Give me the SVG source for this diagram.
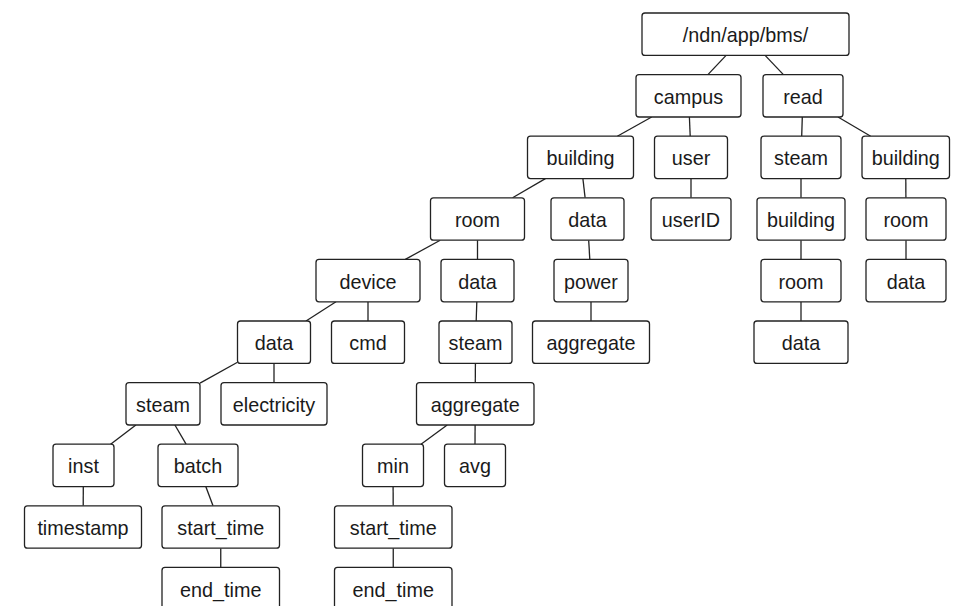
<svg xmlns="http://www.w3.org/2000/svg" width="959" height="606" viewBox="0 0 959 606">
  <style>
    .node rect { fill: #ffffff; stroke: #222222; stroke-width: 1.3; }
    .node text { font-family: "Liberation Sans", Arial, Helvetica, sans-serif; font-size: 19.8px; fill: #1a1a1a; text-anchor: middle; }
    #edges line { stroke: #222222; stroke-width: 1.3; fill: none; }
  </style>
  <rect x="0" y="0" width="959" height="606" fill="#ffffff"/>

  <!-- tree edges: parent bottom to child top, along the centre line -->
  <g id="edges">
    <line x1="726.1" y1="55.4" x2="707.9" y2="74.6"/>
    <line x1="765.1" y1="55.4" x2="783.4" y2="74.6"/>
    <line x1="651.7" y1="117" x2="617.3" y2="136.2"/>
    <line x1="689.4" y1="117" x2="690.2" y2="136.2"/>
    <line x1="802.3" y1="117" x2="801.7" y2="136.2"/>
    <line x1="838" y1="117" x2="870.7" y2="136.2"/>
    <line x1="545.4" y1="178.6" x2="512.6" y2="197.8"/>
    <line x1="582.9" y1="178.6" x2="585.1" y2="197.8"/>
    <line x1="691" y1="178.6" x2="691" y2="197.8"/>
    <line x1="801" y1="178.6" x2="801" y2="197.8"/>
    <line x1="905.8" y1="178.6" x2="905.9" y2="197.8"/>
    <line x1="440.2" y1="240.2" x2="405.3" y2="259.4"/>
    <line x1="477.5" y1="240.2" x2="477.5" y2="259.4"/>
    <line x1="588.7" y1="240.2" x2="589.8" y2="259.4"/>
    <line x1="801" y1="240.2" x2="801" y2="259.4"/>
    <line x1="906" y1="240.2" x2="906" y2="259.4"/>
    <line x1="336" y1="301.8" x2="306" y2="321"/>
    <line x1="368" y1="301.8" x2="368" y2="321"/>
    <line x1="476.8" y1="301.8" x2="476.2" y2="321"/>
    <line x1="591" y1="301.8" x2="591" y2="321"/>
    <line x1="801" y1="301.8" x2="801" y2="321"/>
    <line x1="237.5" y1="362.3" x2="200" y2="383.1"/>
    <line x1="274" y1="363.4" x2="274" y2="382.6"/>
    <line x1="475.4" y1="363.4" x2="475.3" y2="382.6"/>
    <line x1="135.9" y1="425" x2="110.6" y2="444.2"/>
    <line x1="174.9" y1="425" x2="186.1" y2="444.2"/>
    <line x1="447.2" y1="425" x2="421" y2="444.2"/>
    <line x1="475.1" y1="425" x2="475" y2="444.2"/>
    <line x1="83.3" y1="486.6" x2="83.2" y2="505.8"/>
    <line x1="205.8" y1="486.6" x2="213" y2="505.8"/>
    <line x1="393.1" y1="486.6" x2="393.2" y2="505.8"/>
    <line x1="220.75" y1="548.2" x2="220.75" y2="567.4"/>
    <line x1="393.25" y1="548.2" x2="393.25" y2="567.4"/>
  </g>

  <!-- level 0 -->
  <g id="root" class="node"><rect x="642" y="13" width="207" height="42.4" rx="3"/><text x="745.5" y="42.2">/ndn/app/bms/</text></g>

  <!-- level 1 -->
  <g id="campus" class="node"><rect x="636" y="74.6" width="105" height="42.4" rx="3"/><text x="688.5" y="103.8">campus</text></g>
  <g id="read" class="node"><rect x="763" y="74.6" width="80" height="42.4" rx="3"/><text x="803" y="103.8">read</text></g>

  <!-- level 2 -->
  <g id="campus-building" class="node"><rect x="527.5" y="136.2" width="106" height="42.4" rx="3"/><text x="580.5" y="165.4">building</text></g>
  <g id="user" class="node"><rect x="654.5" y="136.2" width="73" height="42.4" rx="3"/><text x="691" y="165.4">user</text></g>
  <g id="read-steam" class="node"><rect x="761" y="136.2" width="80" height="42.4" rx="3"/><text x="801" y="165.4">steam</text></g>
  <g id="read-building" class="node"><rect x="862" y="136.2" width="87.5" height="42.4" rx="3"/><text x="905.75" y="165.4">building</text></g>

  <!-- level 3 -->
  <g id="room" class="node"><rect x="430.5" y="197.8" width="94" height="42.4" rx="3"/><text x="477.5" y="227">room</text></g>
  <g id="building-data" class="node"><rect x="551" y="197.8" width="73" height="42.4" rx="3"/><text x="587.5" y="227">data</text></g>
  <g id="userID" class="node"><rect x="651" y="197.8" width="80" height="42.4" rx="3"/><text x="691" y="227">userID</text></g>
  <g id="steam-building" class="node"><rect x="757" y="197.8" width="88" height="42.4" rx="3"/><text x="801" y="227">building</text></g>
  <g id="read-room" class="node"><rect x="866" y="197.8" width="80" height="42.4" rx="3"/><text x="906" y="227">room</text></g>

  <!-- level 4 -->
  <g id="device" class="node"><rect x="316" y="259.4" width="104" height="42.4" rx="3"/><text x="368" y="288.6">device</text></g>
  <g id="room-data" class="node"><rect x="441" y="259.4" width="73" height="42.4" rx="3"/><text x="477.5" y="288.6">data</text></g>
  <g id="power" class="node"><rect x="554" y="259.4" width="74" height="42.4" rx="3"/><text x="591" y="288.6">power</text></g>
  <g id="steam-room" class="node"><rect x="761" y="259.4" width="80" height="42.4" rx="3"/><text x="801" y="288.6">room</text></g>
  <g id="read-room-data" class="node"><rect x="866" y="259.4" width="80" height="42.4" rx="3"/><text x="906" y="288.6">data</text></g>

  <!-- level 5 -->
  <g id="device-data" class="node"><rect x="237.5" y="321" width="73" height="42.4" rx="3"/><text x="274" y="350.2">data</text></g>
  <g id="cmd" class="node"><rect x="331.5" y="321" width="73" height="42.4" rx="3"/><text x="368" y="350.2">cmd</text></g>
  <g id="room-steam" class="node"><rect x="439" y="321" width="73" height="42.4" rx="3"/><text x="475.5" y="350.2">steam</text></g>
  <g id="power-aggregate" class="node"><rect x="532.5" y="321" width="117" height="42.4" rx="3"/><text x="591" y="350.2">aggregate</text></g>
  <g id="steam-room-data" class="node"><rect x="754" y="321" width="94" height="42.4" rx="3"/><text x="801" y="350.2">data</text></g>

  <!-- level 6 -->
  <g id="device-steam" class="node"><rect x="126" y="382.6" width="74" height="42.4" rx="3"/><text x="163" y="411.8">steam</text></g>
  <g id="electricity" class="node"><rect x="221" y="382.6" width="106" height="42.4" rx="3"/><text x="274" y="411.8">electricity</text></g>
  <g id="steam-aggregate" class="node"><rect x="416.5" y="382.6" width="117.5" height="42.4" rx="3"/><text x="475.25" y="411.8">aggregate</text></g>

  <!-- level 7 -->
  <g id="inst" class="node"><rect x="53" y="444.2" width="61" height="42.4" rx="3"/><text x="83.5" y="473.4">inst</text></g>
  <g id="batch" class="node"><rect x="158" y="444.2" width="80" height="42.4" rx="3"/><text x="198" y="473.4">batch</text></g>
  <g id="min" class="node"><rect x="362.5" y="444.2" width="61" height="42.4" rx="3"/><text x="393" y="473.4">min</text></g>
  <g id="avg" class="node"><rect x="444.5" y="444.2" width="61" height="42.4" rx="3"/><text x="475" y="473.4">avg</text></g>

  <!-- level 8 -->
  <g id="timestamp" class="node"><rect x="24.5" y="505.8" width="117" height="42.4" rx="3"/><text x="83" y="535">timestamp</text></g>
  <g id="batch-start_time" class="node"><rect x="162" y="505.8" width="117.5" height="42.4" rx="3"/><text x="220.75" y="535">start_time</text></g>
  <g id="min-start_time" class="node"><rect x="334.5" y="505.8" width="117.5" height="42.4" rx="3"/><text x="393.25" y="535">start_time</text></g>

  <!-- level 9 -->
  <g id="batch-end_time" class="node"><rect x="162" y="567.4" width="117.5" height="42.4" rx="3"/><text x="220.75" y="596.6">end_time</text></g>
  <g id="min-end_time" class="node"><rect x="334.5" y="567.4" width="117.5" height="42.4" rx="3"/><text x="393.25" y="596.6">end_time</text></g>
</svg>
